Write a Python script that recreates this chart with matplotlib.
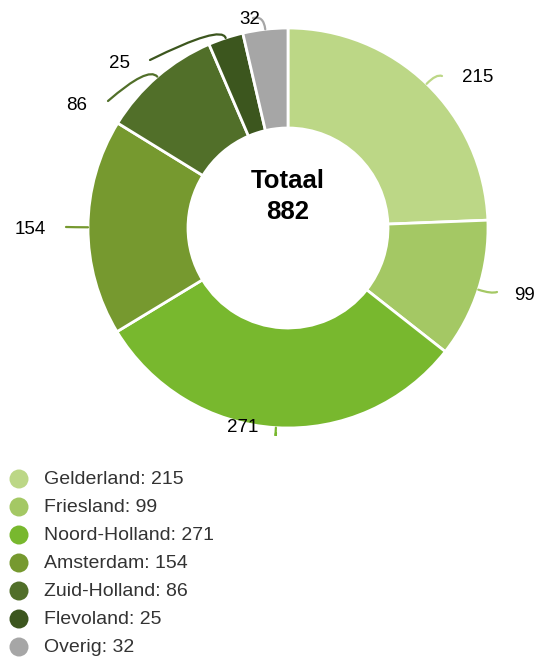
import matplotlib
matplotlib.use("Agg")
import numpy as np
import matplotlib.pyplot as plt
from matplotlib.path import Path
from matplotlib.patches import PathPatch, Circle

plt.rcParams['font.family'] = ['Liberation Sans', 'DejaVu Sans']

categories = ["Gelderland", "Friesland", "Noord-Holland", "Amsterdam",
              "Zuid-Holland", "Flevoland", "Overig"]
values = [215, 99, 271, 154, 86, 25, 32]
colors = ["#bcd786", "#a4c864", "#78b82e", "#76992f", "#516f29", "#3c561e", "#a6a6a6"]
total_label = "Totaal"

W, H = 540, 657
fig = plt.figure(figsize=(W / 100, H / 100), dpi=100)
ax = fig.add_axes([0, 0, 1, 1])

cx, cy = 288, H - 228
R_out, ring = 200, 100

wedges, _ = ax.pie(values, colors=colors, startangle=90, counterclock=False,
                   center=(cx, cy), radius=R_out, frame=True,
                   wedgeprops=dict(width=ring, edgecolor="white", linewidth=2))
ax.set_xlim(0, W)
ax.set_ylim(0, H)
ax.set_aspect("equal")
ax.axis("off")

# outside value labels: (text x, text y, connector end x, connector end y, ha) in pixel layout
label_layout = [
    (462, 78, 442, 76, "left"),
    (514, 296, 497, 292, "left"),
    (243, 427, 276, 433, "center"),
    (46, 230, 66, 227, "right"),
    (87, 105, 108, 101, "right"),
    (130, 63, 150, 60, "right"),
    (250, 20, 253, 18, "center"),
]

for w, v, c, (tx, ty, ex, ey, ha) in zip(wedges, values, colors, label_layout):
    mid = np.deg2rad((w.theta1 + w.theta2) / 2)
    sx = cx + R_out * np.cos(mid)
    sy = cy + R_out * np.sin(mid)
    kx = cx + (R_out + 14) * np.cos(mid)
    ky = cy + (R_out + 14) * np.sin(mid)
    ey_up = H - ey
    path = Path([(sx, sy), (kx, ky), (ex, ey_up)],
                [Path.MOVETO, Path.CURVE3, Path.CURVE3])
    ax.add_patch(PathPatch(path, facecolor="none", edgecolor=c, linewidth=1.6,
                           capstyle="round", zorder=3))
    ax.text(tx, H - ty, f"{v}", ha=ha, va="center", fontsize=13.5, color="#000000")

ax.text(cx, H - 181, total_label, ha="center", va="center", fontsize=18.5,
        fontweight="bold", color="#000000")
ax.text(cx, H - 212, f"{sum(values)}", ha="center", va="center", fontsize=18.5,
        fontweight="bold", color="#000000")

# legend as a vertical list of dots and labels
for i, (name, v, c) in enumerate(zip(categories, values, colors)):
    y = H - (479 + 28 * i)
    ax.add_patch(Circle((19, y), 9.5, facecolor=c, edgecolor="none"))
    ax.text(44, y, f"{name}: {v}", ha="left", va="center", fontsize=14,
            color="#333333")

fig.savefig("out.png", dpi=100)
